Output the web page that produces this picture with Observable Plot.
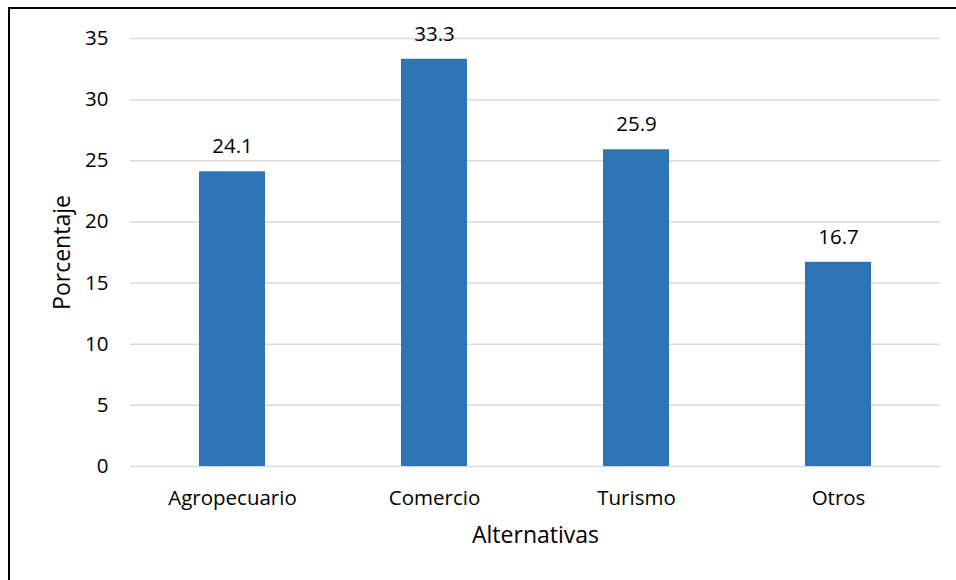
<!DOCTYPE html>
<html>
<head>
<meta charset="utf-8">
<script src="https://cdn.jsdelivr.net/npm/d3@7"></script>
<script src="https://cdn.jsdelivr.net/npm/@observablehq/plot@0.6"></script>
<style>
  body { margin: 0; background: #fff; overflow: hidden; }
  #wrap { position: relative; width: 956px; height: 580px; }
  #frame { position: absolute; left: 8px; top: 7px; width: 960px; height: 590px;
           border: 2px solid #000; box-sizing: border-box; pointer-events: none; }
</style>
</head>
<body>
<div id="wrap"><div id="frame"></div></div>
<script>
const alternativas = ["Agropecuario", "Comercio", "Turismo", "Otros"];
const porcentaje = [24.1, 33.3, 25.9, 16.7];
const yTicks = [0, 5, 10, 15, 20, 25, 30, 35];

const rows = alternativas.map((a, i) => ({alt: a, pct: porcentaje[i]}));

const chart = Plot.plot({
  width: 956,
  height: 580,
  marginLeft: 130,
  marginRight: 16,
  marginTop: 38,
  marginBottom: 114,
  style: {fontFamily: "'Open Sans', sans-serif", fontSize: "21px", color: "#000", background: "transparent"},
  x: {domain: alternativas, paddingInner: 0.675, paddingOuter: 0.3375, label: null},
  y: {domain: [0, 35], ticks: yTicks, label: null},
  marks: [
    Plot.gridY(yTicks, {stroke: "#d9d9d9", strokeOpacity: 1, strokeWidth: 1.5}),
    Plot.barY(rows, {x: "alt", y: "pct", fill: "#2e75b6"}),
    Plot.text(rows, {x: "alt", y: "pct", text: d => d.pct.toFixed(1), dy: -25, fontSize: 20.5, fill: "#000"}),
    Plot.axisY(yTicks, {tickSize: 0, tickPadding: 22, fontSize: 20.5, label: null}),
    Plot.axisX({tickSize: 0, tickPadding: 24, fontSize: 20.5, label: null}),
    Plot.text(["Porcentaje"], {frameAnchor: "left", textAnchor: "middle", dx: -68, rotate: -90, fontSize: 23, fill: "#000"}),
    Plot.text(["Alternativas"], {frameAnchor: "bottom", dy: 76, fontSize: 23, fill: "#000"})
  ]
});
document.getElementById("wrap").prepend(chart);
</script>
</body>
</html>
